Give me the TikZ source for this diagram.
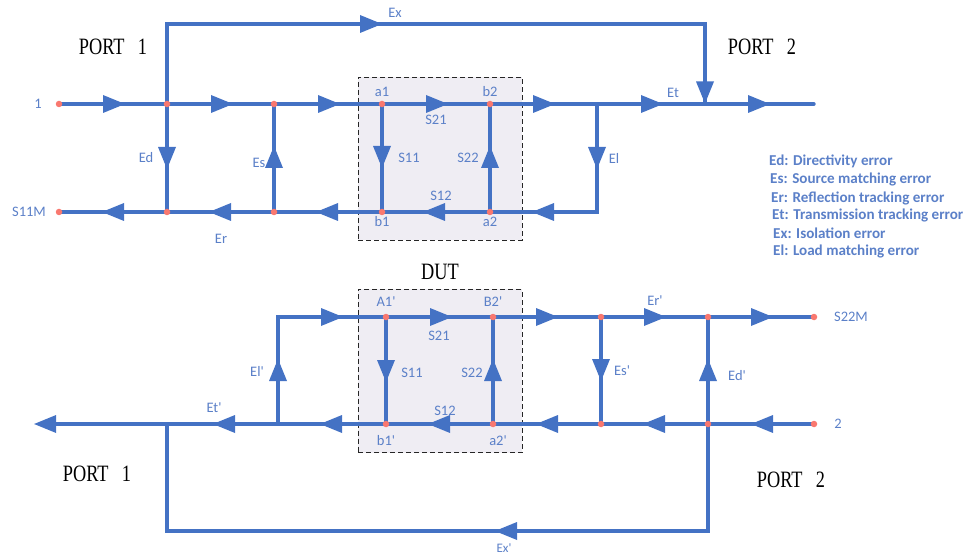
\documentclass[tikz,border=0pt]{standalone}
\usepackage{fontspec}
\usepackage{graphicx}
\setmainfont{Carlito}[Ligatures=TeXOff]
\newfontfamily\portfont[WordSpace=2.9]{Liberation Serif}
\usetikzlibrary{decorations.markings}
\definecolor{wire}{HTML}{4472C4}
\definecolor{labelblue}{HTML}{5B80C8}
\definecolor{dotred}{HTML}{F9786F}
\definecolor{dutfill}{HTML}{EFEDF3}
\newcommand{\headshape}{\fill[wire] (-22pt,-9pt) -- (0pt,0pt) -- (-22pt,9pt) -- cycle;}
\newcommand{\porttext}[1]{\scalebox{1}[1.28]{\portfont\fontsize{18.3}{20}\selectfont #1}}
\tikzset{
  wireline/.style={draw=wire,line width=3.4pt,line cap=round,line join=miter},
  tipat/.style={postaction={decorate,decoration={markings,mark=at position #1 with {\headshape}}}},
  junction/.style={circle,fill=dotred,inner sep=0pt,minimum size=6.5pt},
  dutbox/.style={draw=black!85,fill=dutfill,line width=0.9pt,dash pattern=on 5pt off 3pt,minimum width=164pt,minimum height=163pt,inner sep=0pt},
  lab/.style={text=labelblue,inner sep=0pt,font=\fontsize{14.5}{16}\selectfont},
  legend/.style={text=labelblue,inner sep=0pt,anchor=west,font=\fontsize{15.1}{16}\selectfont\bfseries},
  porttag/.style={text=black,inner sep=0pt}
}
\begin{document}
\begin{tikzpicture}[x=1pt,y=-1pt]
\useasboundingbox (0,0) rectangle (967,556);
% DUT boxes
\node[dutbox] (boxA) at (440,158.5) {};
\node[dutbox] (boxB) at (440,371) {};
% upper network
\coordinate (in) at (59,104);
\coordinate (j1) at (167,104);
\coordinate (j2) at (274,104);
\coordinate (a1) at (382,104);
\coordinate (b2) at (490,104);
\coordinate (j3) at (597,104);
\coordinate (j4) at (705,104);
\coordinate (out) at (814,104);
\coordinate (sm) at (59,212);
\coordinate (k1) at (167,212);
\coordinate (k2) at (274,212);
\coordinate (b1) at (382,212);
\coordinate (a2) at (490,212);
\coordinate (k3) at (597,212);
\coordinate (exa) at (167,24);
\coordinate (exb) at (705,24);
% lower network
\coordinate (c1) at (278,317);
\coordinate (A1) at (386,317);
\coordinate (B2) at (493,317);
\coordinate (m1) at (601,317);
\coordinate (m2) at (708,317);
\coordinate (sn) at (814,317);
\coordinate (tip) at (34,424);
\coordinate (tipb) at (50,424);
\coordinate (n0) at (167,424);
\coordinate (n1) at (278,424);
\coordinate (lb1) at (386,424);
\coordinate (la2) at (493,424);
\coordinate (n2) at (601,424);
\coordinate (n3) at (708,424);
\coordinate (two) at (814,424);
\coordinate (xa) at (708,531);
\coordinate (xb) at (167,531);
% upper connectors
\draw[wireline,tipat=295pt,tipat=697.5pt] (j1) -- (exa) -- (exb) -- (j4);
\draw[wireline,tipat=66pt] (in) -- (j1);
\draw[wireline,tipat=66pt] (j1) -- (j2);
\draw[wireline,tipat=66pt] (j2) -- (a1);
\draw[wireline,tipat=66pt] (a1) -- (b2);
\draw[wireline,tipat=65pt] (b2) -- (j3);
\draw[wireline,tipat=66pt] (j3) -- (j4);
\draw[wireline,tipat=65pt] (j4) -- (out);
\draw[wireline,tipat=65pt] (j1) -- (k1);
\draw[wireline,tipat=66pt] (k2) -- (j2);
\draw[wireline,tipat=64pt] (a1) -- (b1);
\draw[wireline,tipat=66pt] (a2) -- (b2);
\draw[wireline,tipat=65pt,tipat=173pt] (j3) -- (k3) -- (a2);
\draw[wireline,tipat=67pt] (a2) -- (b1);
\draw[wireline,tipat=66pt] (b1) -- (k2);
\draw[wireline,tipat=65pt] (k2) -- (k1);
\draw[wireline,tipat=65pt] (k1) -- (sm);
% lower connectors
\draw[wireline,tipat=65pt,tipat=172pt] (n1) -- (c1) -- (A1);
\draw[wireline,tipat=66pt] (A1) -- (B2);
\draw[wireline,tipat=65pt] (B2) -- (m1);
\draw[wireline,tipat=65pt] (m1) -- (m2);
\draw[wireline,tipat=65pt] (m2) -- (sn);
\draw[wireline,tipat=65pt] (A1) -- (lb1);
\draw[wireline,tipat=65pt] (la2) -- (B2);
\draw[wireline,tipat=64pt] (m1) -- (n2);
\draw[wireline,tipat=65pt] (n3) -- (m2);
\draw[wireline,tipat=63pt] (two) -- (n3);
\draw[wireline,tipat=65pt] (n3) -- (n2);
\draw[wireline,tipat=65pt] (n2) -- (la2);
\draw[wireline,tipat=65pt] (la2) -- (lb1);
\draw[wireline,tipat=66pt] (lb1) -- (n1);
\draw[wireline,tipat=65pt] (n1) -- (n0);
\draw[wireline] (n0) -- (tipb);
\path[tipat=132.9pt] (n0) -- (tip);
\draw[wireline,tipat=320pt] (n3) -- (xa) -- (xb) -- (n0);
% junction dots
\foreach \p in {in,j1,j2,a1,b2,sm,k1,k2,b1,a2,A1,B2,m1,m2,sn,lb1,la2,n2,n3,two}
  \node[junction] (dot\p) at (\p) {};
% labels
\node[lab] (t1) at (38,104) {1};
\node[lab] (t2) at (29,212) {S11M};
\node[lab] (t3) at (395,13) {Ex};
\node[lab] (t4) at (673,93) {Et};
\node[lab] (t5) at (614,158) {El};
\node[lab] (t6) at (146,158) {Ed};
\node[lab] (t7) at (259,163) {Es};
\node[lab] (t8) at (221,239) {Er};
\node[lab] (t9) at (382,92) {a1};
\node[lab] (t10) at (490,92) {b2};
\node[lab] (t11) at (436,120) {S21};
\node[lab] (t12) at (409,158) {S11};
\node[lab] (t13) at (468,158) {S22};
\node[lab] (t14) at (441,196) {S12};
\node[lab] (t15) at (382,222) {b1};
\node[lab] (t16) at (490,222) {a2};
\node[lab] (t17) at (386,302) {A1'};
\node[lab] (t18) at (493,302) {B2'};
\node[lab] (t19) at (439,336) {S21};
\node[lab] (t20) at (412,373) {S11};
\node[lab] (t21) at (472,373) {S22};
\node[lab] (t22) at (445,411) {S12};
\node[lab] (t23) at (386,441) {b1'};
\node[lab] (t24) at (498,441) {a2'};
\node[lab] (t25) at (257,371) {El'};
\node[lab] (t26) at (214,408) {Et'};
\node[lab] (t27) at (655,301) {Er'};
\node[lab] (t28) at (622,371) {Es'};
\node[lab] (t29) at (737,376) {Ed'};
\node[lab] (t30) at (851,317) {S22M};
\node[lab] (t31) at (838,424) {2};
\node[lab,font=\fontsize{13}{15}\selectfont] (t32) at (504,548) {Ex'};
% port and DUT captions
\node[porttag] (p1) at (113,47) {\porttext{PORT 1}};
\node[porttag] (p2) at (762,47) {\porttext{PORT 2}};
\node[porttag] (p3) at (97,474) {\porttext{PORT 1}};
\node[porttag] (p4) at (791,480) {\porttext{PORT 2}};
\node[porttag] (p5) at (440,272) {\porttext{DUT}};
% legend
\node[legend] (l1) at (769,161) {Ed: Directivity error};
\node[legend] (l2) at (770,179) {Es: Source matching error};
\node[legend] (l3) at (771,198) {Er: Reflection tracking error};
\node[legend] (l4) at (772,215) {Et: Transmission tracking error};
\node[legend] (l5) at (773,233) {Ex: Isolation error};
\node[legend] (l6) at (773,251) {El: Load matching error};
\end{tikzpicture}
\end{document}
